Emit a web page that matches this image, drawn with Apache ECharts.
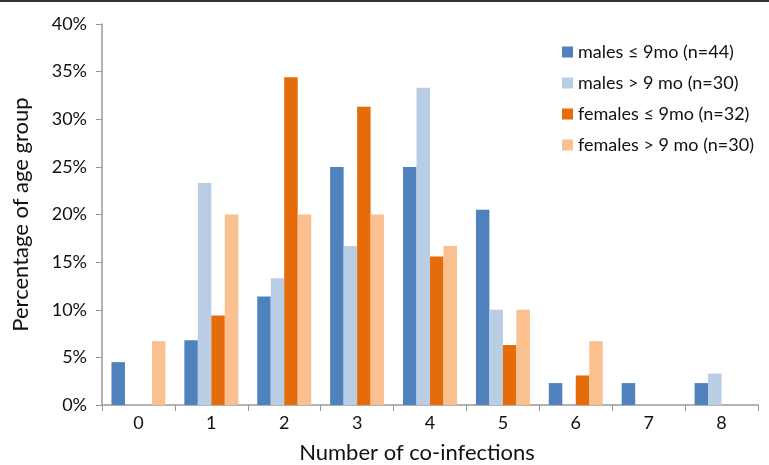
<!DOCTYPE html>
<html>
<head>
<meta charset="utf-8">
<script src="https://cdn.jsdelivr.net/npm/echarts@6/dist/echarts.min.js"></script>
<style>html,body{margin:0;padding:0;background:#fff;}#c{width:769px;height:465px;}</style>
</head>
<body>
<div id="c"></div>
<script>
const categories = ['0','1','2','3','4','5','6','7','8'];
const malesYoung = [4.5, 6.8, 11.4, 25.0, 25.0, 20.5, 2.3, 2.3, 2.3];
const malesOld = [0, 23.3, 13.3, 16.7, 33.3, 10.0, 0, 0, 3.3];
const femalesYoung = [0, 9.4, 34.4, 31.3, 15.6, 6.3, 3.1, 0, 0];
const femalesOld = [6.7, 20.0, 20.0, 20.0, 16.7, 10.0, 6.7, 0, 0];
const seriesNames = ['males ≤ 9mo (n=44)', 'males > 9 mo (n=30)', 'females ≤ 9mo (n=32)', 'females > 9 mo (n=30)'];
const colors = ['#4F81BD', '#B9CDE5', '#E46C0A', '#FAC090'];
const FONT = 'Lato';

const chart = echarts.init(document.getElementById('c'), null, {renderer: 'canvas'});
const dataSets = [malesYoung, malesOld, femalesYoung, femalesOld];
chart.setOption({
  animation: false,
  textStyle: {fontFamily: FONT},
  grid: {left: 102, right: 11, top: 24, bottom: 60, containLabel: false, outerBoundsMode: 'none'},
  legend: {
    orient: 'vertical', right: 10, top: 38, itemWidth: 11, itemHeight: 11, itemGap: 13,
    icon: 'rect',
    textStyle: {fontFamily: FONT, fontSize: 18, color: '#111'},
    data: seriesNames
  },
  graphic: [{type: 'rect', left: 0, top: 0, shape: {width: 769, height: 2}, style: {fill: '#333'}}],
  xAxis: {
    type: 'category', data: categories,
    name: 'Number of co-infections', nameLocation: 'middle', nameGap: 37,
    nameTextStyle: {fontFamily: FONT, fontSize: 22, color: '#111', padding: [0, 26, 0, 0]},
    axisLine: {lineStyle: {color: '#999', width: 1.5}},
    axisTick: {show: true, length: 6, lineStyle: {color: '#999'}},
    axisLabel: {fontFamily: FONT, fontSize: 18, color: '#111', margin: 9}
  },
  yAxis: {
    type: 'value', min: 0, max: 40, interval: 5,
    name: 'Percentage of age group', nameLocation: 'middle', nameGap: 70,
    nameTextStyle: {fontFamily: FONT, fontSize: 22, color: '#111'},
    axisLine: {show: true, lineStyle: {color: '#999', width: 1.5}},
    axisTick: {show: true, length: 6, lineStyle: {color: '#999'}},
    splitLine: {show: false},
    axisLabel: {fontFamily: FONT, fontSize: 18, color: '#111', margin: 15, formatter: v => v + '%'}
  },
  series: dataSets.map((d, i) => ({
    name: seriesNames[i], type: 'bar', data: d, barGap: '0%', barCategoryGap: '26%',
    itemStyle: {color: colors[i]}
  }))
});
</script>
</body>
</html>
